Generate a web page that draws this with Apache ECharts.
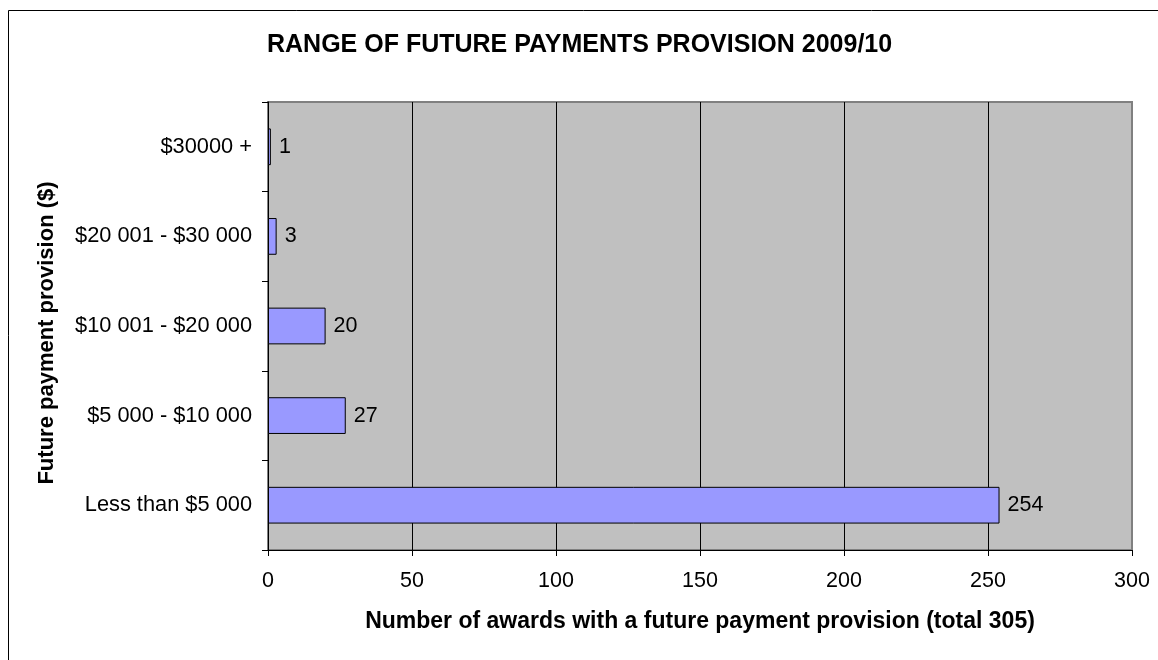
<!DOCTYPE html>
<html>
<head>
<meta charset="utf-8">
<script src="https://cdn.jsdelivr.net/npm/echarts@6/dist/echarts.min.js"></script>
<style>
html, body { margin: 0; padding: 0; background: #fff; }
#chart { width: 1158px; height: 660px; }
</style>
</head>
<body>
<div id="chart"></div>
<script>
var categories = ['Less than $5 000', '$5 000 - $10 000', '$10 001 - $20 000', '$20 001 - $30 000', '$30000 +'];
var awards = [254, 27, 20, 3, 1];
var xTicks = { min: 0, max: 300, interval: 50 };

var fontName = '"Liberation Sans", Arial, sans-serif';

var chart = echarts.init(document.getElementById('chart'));

var option = {
	animation : false,
	textStyle : {
		fontFamily : fontName
	},
	title : {
		text : 'RANGE OF FUTURE PAYMENTS PROVISION 2009/10',
		left : 267,
		top : 33,
		padding : 0,
		textStyle : {
			color : '#000',
			fontSize : 25,
			fontWeight : 'bold',
			fontFamily : fontName
		}
	},
	graphic : [ {
		type : 'rect',
		silent : true,
		shape : { x : 8.5, y : 10.5, width : 1200, height : 700 },
		style : { fill : 'none', stroke : '#000', lineWidth : 1 }
	} ],
	grid : {
		left : 268,
		right : 26,
		top : 102,
		bottom : 110,
		show : true,
		backgroundColor : '#C0C0C0',
		borderColor : '#808080',
		borderWidth : 2
	},
	xAxis : {
		type : 'value',
		min : xTicks.min,
		max : xTicks.max,
		interval : xTicks.interval,
		name : 'Number of awards with a future payment provision (total 305)',
		nameLocation : 'middle',
		nameGap : 60,
		nameTextStyle : {
			color : '#000',
			fontSize : 23,
			fontWeight : 'bold',
			fontFamily : fontName
		},
		axisLine : {
			show : true,
			lineStyle : { color : '#000', width : 1 }
		},
		axisTick : {
			show : true,
			length : 6,
			lineStyle : { color : '#000' }
		},
		axisLabel : {
			color : '#000',
			fontSize : 21.5,
			margin : 20
		},
		splitLine : {
			show : true,
			showMinLine : false,
			showMaxLine : false,
			lineStyle : { color : '#000', width : 1 }
		}
	},
	yAxis : {
		type : 'category',
		data : categories,
		name : 'Future payment provision ($)',
		nameLocation : 'middle',
		nameRotate : 90,
		nameGap : 210,
		nameTextStyle : {
			color : '#000',
			fontSize : 22,
			fontWeight : 'bold',
			fontFamily : fontName,
			padding : [0, 14, 0, 0]
		},
		axisLine : {
			show : true,
			lineStyle : { color : '#000', width : 1 }
		},
		axisTick : {
			show : true,
			length : 6,
			lineStyle : { color : '#000' }
		},
		axisLabel : {
			color : '#000',
			fontSize : 21.8,
			margin : 16
		},
		splitLine : { show : false }
	},
	series : [ {
		type : 'bar',
		data : awards,
		barWidth : '41%',
		itemStyle : {
			color : '#9999FF',
			borderColor : '#000',
			borderWidth : 1
		},
		label : {
			show : true,
			position : 'right',
			distance : 8,
			color : '#000',
			fontSize : 21.5,
			fontFamily : fontName
		}
	} ]
};

chart.setOption(option);
</script>
</body>
</html>
